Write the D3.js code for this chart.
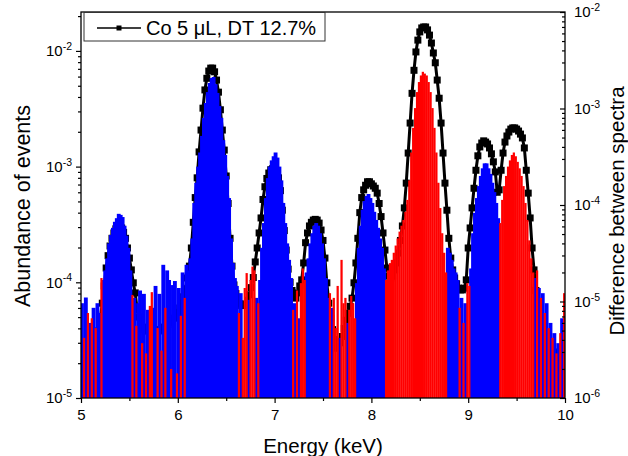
<!DOCTYPE html>
<html><head><meta charset="utf-8">
<script src="https://cdn.jsdelivr.net/npm/d3@7"></script>
<style>
body{margin:0;background:#fff}
svg{display:block}
text{font-family:"Liberation Sans",Arial,sans-serif;fill:#000}
</style>
</head><body>
<svg id="c" width="628" height="456"></svg>
<script>
// channel grid (keV)
const energyStart = 5.0;
const energyStep = 0.02;

// black spectrum "Co 5 uL, DT 12.7%" (left axis), one value per channel 5.00 ... 10.00
const abundance = [
2.2e-5,2.2e-5,2.3e-5,2.3e-5,2.4e-5,2.4e-5,2.6e-5,2.8e-5,3.2e-5,3.8e-5,
4.9e-5,6.6e-5,9.3e-5,1.33e-4,1.7e-4,2.06e-4,2.4e-4,2.67e-4,2.9e-4,3.0e-4,
3.0e-4,2.95e-4,2.7e-4,2.4e-4,1.98e-4,1.62e-4,1.28e-4,9.9e-5,8.1e-5,5.8e-5,
5.0e-5,4.4e-5,4.1e-5,3.9e-5,3.8e-5,3.8e-5,3.7e-5,3.7e-5,3.7e-5,3.8e-5,
3.8e-5,3.9e-5,4.0e-5,4.1e-5,4.2e-5,4.3e-5,4.5e-5,4.7e-5,4.9e-5,5.2e-5,
5.5e-5,6.0e-5,6.6e-5,7.5e-5,8.8e-5,1.09e-4,1.38e-4,1.98e-4,3.3e-4,5.4e-4,
8.0e-4,1.34e-3,2.07e-3,3.2e-3,4.6e-3,5.8e-3,6.7e-3,7.1e-3,7.1e-3,6.6e-3,
5.6e-3,4.4e-3,3.1e-3,2.07e-3,1.39e-3,8.3e-4,4.8e-4,2.4e-4,1.38e-4,9.5e-5,
8.0e-5,7.0e-5,6.5e-5,6.3e-5,6.3e-5,6.5e-5,7.0e-5,7.8e-5,9.0e-5,1.1e-4,
1.5e-4,1.98e-4,2.67e-4,3.6e-4,5.2e-4,6.7e-4,7.9e-4,8.8e-4,9.4e-4,9.6e-4,
9.5e-4,8.9e-4,8.0e-4,6.2e-4,4.2e-4,2.8e-4,1.9e-4,1.3e-4,1.0e-4,8.5e-5,
7.6e-5,7.3e-5,8.1e-5,9.3e-5,1.05e-4,1.47e-4,2.2e-4,2.67e-4,3.07e-4,3.3e-4,
3.45e-4,3.5e-4,3.45e-4,3.25e-4,2.83e-4,2.3e-4,1.62e-4,9.9e-5,6.6e-5,4.9e-5,
3.9e-5,3.2e-5,2.7e-5,2.7e-5,3.0e-5,3.4e-5,4.0e-5,4.7e-5,5.4e-5,6.2e-5,
7.3e-5,9.9e-5,1.47e-4,2.4e-4,4.0e-4,5.4e-4,6.3e-4,6.9e-4,7.4e-4,7.4e-4,
7.1e-4,6.8e-4,6.5e-4,5.9e-4,4.8e-4,3.7e-4,2.67e-4,1.9e-4,1.33e-4,1.13e-4,
1.09e-4,1.13e-4,1.28e-4,1.47e-4,1.79e-4,2.3e-4,3.07e-4,4.4e-4,7.2e-4,1.31e-3,
2.38e-3,4.3e-3,6.8e-3,9.8e-3,1.24e-2,1.46e-2,1.58e-2,1.61e-2,1.61e-2,1.52e-2,
1.37e-2,1.17e-2,9.6e-3,7.9e-3,5.6e-3,3.9e-3,2.38e-3,1.31e-3,7.2e-4,4.2e-4,
2.4e-4,1.62e-4,1.28e-4,1.09e-4,9.7e-5,8.9e-5,8.6e-5,8.6e-5,8.9e-5,1.05e-4,
1.98e-4,2.95e-4,4.4e-4,6.5e-4,9.3e-4,1.24e-3,1.48e-3,1.6e-3,1.67e-3,1.63e-3,
1.57e-3,1.45e-3,1.29e-3,1.1e-3,9.0e-4,6.0e-4,6.3e-4,9.3e-4,1.31e-3,1.63e-3,
1.84e-3,1.99e-3,2.11e-3,2.16e-3,2.16e-3,2.11e-3,2.03e-3,1.91e-3,1.77e-3,1.45e-3,
9.3e-4,5.9e-4,3.6e-4,1.98e-4,1.28e-4,8.5e-5,6.0e-5,4.6e-5,3.8e-5,3.3e-5,
3.0e-5,2.8e-5,2.7e-5,2.6e-5,2.5e-5,2.4e-5,2.4e-5,2.3e-5,2.3e-5,2.2e-5,
2.2e-5
];

// difference between spectra (right axis), one bar per channel 5.00 ... 9.98
// positive = blue, negative = red (drawn as magnitude)
const difference = [
9.6e-6,-4.2e-6,1.1e-5,-7.6e-6,6.0e-6,-6.7e-6,8.6e-6,-5.3e-6,9.6e-6,7.6e-6,
-1.75e-5,1.67e-5,2.1e-5,2.8e-5,4.0e-5,4.9e-5,5.8e-5,6.7e-5,7.3e-5,8.1e-5,
7.9e-5,7.5e-5,6.1e-5,4.8e-5,3.6e-5,2.1e-5,-1.17e-5,1.09e-5,-5.6e-6,9.6e-6,
1.3e-5,-3.7e-6,1.2e-5,-2.9e-6,8.2e-6,-9.0e-6,-1.25e-5,8.6e-6,1.45e-5,-5.3e-6,
1.2e-5,-3.1e-6,2.4e-5,-8.6e-6,2.1e-5,1.67e-5,-2.0e-6,1.48e-5,1.63e-5,-1.8e-6,
1.38e-5,-7.1e-6,2.0e-5,-1.09e-5,2.4e-5,2.1e-5,2.8e-5,4.5e-5,1.05e-4,1.7e-4,
2.5e-4,3.5e-4,5.2e-4,8.0e-4,1.14e-3,1.48e-3,1.84e-3,2.07e-3,2.12e-3,1.79e-3,
1.45e-3,1.06e-3,8.0e-4,4.7e-4,3.3e-4,2.0e-4,1.18e-4,4.5e-5,2.5e-5,1.75e-5,
1.45e-5,-7.6e-6,1.22e-5,-4.2e-6,-1.38e-5,-1.97e-5,1.04e-5,-1.67e-5,-2.3e-5,-2.1e-5,
1.09e-5,-9.6e-6,1.67e-5,3.6e-5,6.5e-5,1.18e-4,1.9e-4,2.5e-4,2.9e-4,3.2e-4,
3.5e-4,3.1e-4,2.5e-4,1.8e-4,1.05e-4,6.5e-5,4.0e-5,2.7e-5,1.75e-5,-8.2e-6,
9.6e-6,-1.3e-5,6.7e-6,-1.55e-5,-2.2e-5,-1.67e-5,2.0e-5,2.8e-5,4.0e-5,5.1e-5,
6.1e-5,6.5e-5,6.1e-5,5.1e-5,4.0e-5,2.8e-5,1.75e-5,1.09e-5,-1.22e-5,8.6e-6,
-1.09e-5,-5.3e-6,-1.45e-5,4.2e-6,-2.7e-5,-9.6e-6,-1.09e-5,6.0e-6,-8.2e-6,-1.14e-5,
-9.6e-6,-6.7e-6,1.55e-5,3.6e-5,6.1e-5,8.9e-5,1.1e-4,1.24e-4,1.3e-4,1.18e-4,
1.05e-4,8.5e-5,7.0e-5,5.8e-5,4.5e-5,3.6e-5,2.2e-5,-1.67e-5,-2.1e-5,-2.5e-5,
-2.7e-5,-3.2e-5,-3.8e-5,-4.5e-5,-5.3e-5,-6.1e-5,-7.0e-5,-8.5e-5,-1.13e-4,-1.8e-4,
-3.5e-4,-6.3e-4,-1.01e-3,-1.48e-3,-1.88e-3,-2.2e-3,-2.4e-3,-2.3e-3,-2.2e-3,-1.88e-3,
-1.48e-3,-1.01e-3,-6.3e-4,-3.5e-4,-1.7e-4,-9.3e-5,-5.1e-5,-3.2e-5,-2.0e-5,3.6e-5,
3.2e-5,2.7e-5,2.2e-5,2.0e-5,1.67e-5,-8.6e-6,1.09e-5,-6.0e-6,9.6e-6,-1.55e-5,
-1.45e-5,2.2e-5,5.1e-5,8.3e-5,1.18e-4,1.57e-4,2.0e-4,2.4e-4,2.7e-4,2.7e-4,
2.4e-4,2.1e-4,1.7e-4,1.36e-4,1.05e-4,7.3e-5,-6.5e-5,-1.13e-4,-1.57e-4,-2.0e-4,
-2.5e-4,-2.9e-4,-3.3e-4,-3.5e-4,-3.2e-4,-2.8e-4,-2.4e-4,-2.0e-4,-1.57e-4,-1.05e-4,
-7.0e-5,-4.3e-5,-2.8e-5,-2.0e-5,1.75e-5,-2.1e-5,1.38e-5,-1.09e-5,1.22e-5,-7.6e-6,
9.6e-6,-5.3e-6,6.0e-6,-4.2e-6,4.7e-6,-2.9e-6,3.7e-6,-4.7e-6,6.7e-6,-1.22e-5
];

const xTicks = [5, 6, 7, 8, 9, 10];
const xMinorTicks = [5.5, 6.5, 7.5, 8.5, 9.5];
const leftTicks = [1e-5, 1e-4, 1e-3, 1e-2];
const rightTicks = [1e-6, 1e-5, 1e-4, 1e-3, 1e-2];
const leftDomain = [1e-5, 0.0217];
const rightDomain = [1e-6, 1e-2];
const legendLabel = "Co 5 \u03BCL, DT 12.7%";
const xTitle = "Energy (keV)";
const yLeftTitle = "Abundance of events";
const yRightTitle = "Difference between spectra";

const M = {left: 81, right: 565, top: 12, bottom: 398};
const svg = d3.select("#c");

const x = d3.scaleLinear().domain([5, 10]).range([M.left, M.right]);
const yL = d3.scaleLog().domain(leftDomain).range([M.bottom, M.top]);
const yR = d3.scaleLog().domain(rightDomain).range([M.bottom, M.top]);

function minors(domain) {
  const out = [];
  for (let e = Math.floor(Math.log10(domain[0])); e <= Math.ceil(Math.log10(domain[1])); e++) {
    for (let m = 2; m <= 9; m++) {
      const v = m * Math.pow(10, e);
      if (v > domain[0] && v < domain[1]) out.push(v);
    }
  }
  return out;
}

svg.append("defs").append("clipPath").attr("id", "plotclip")
  .append("rect").attr("x", M.left).attr("y", M.top)
  .attr("width", M.right - M.left).attr("height", M.bottom - M.top);

const plot = svg.append("g").attr("clip-path", "url(#plotclip)");

// black spectrum (behind the bars)
const pts = abundance.map((v, i) => ({e: energyStart + i * energyStep, v}));
plot.append("path")
  .datum(pts)
  .attr("fill", "none").attr("stroke", "#000").attr("stroke-width", 3)
  .attr("d", d3.line().x(d => x(d.e)).y(d => yL(d.v)));
plot.append("g").selectAll("rect").data(pts).join("rect")
  .attr("x", d => x(d.e) - 3.5).attr("y", d => yL(d.v) - 3.5)
  .attr("width", 7).attr("height", 7).attr("fill", "#000");

// difference bars: blue (positive) behind, red (negative) in front
const bars = difference.map((v, i) => ({e: energyStart + i * energyStep, v}));
const pos = bars.filter(d => d.v > 0), neg = bars.filter(d => d.v < 0);
plot.append("g").selectAll("rect").data(pos).join("rect")
  .attr("x", d => x(d.e - energyStep / 2))
  .attr("width", d => x(d.e + 1.5 * energyStep) - x(d.e - energyStep / 2))
  .attr("y", d => yR(d.v))
  .attr("height", d => M.bottom - yR(d.v))
  .attr("fill", "#0000ff");
plot.append("g").selectAll("rect").data(neg).join("rect")
  .attr("x", d => x(d.e))
  .attr("width", d => x(d.e + energyStep) - x(d.e) + 0.3)
  .attr("y", d => yR(-d.v))
  .attr("height", d => M.bottom - yR(-d.v))
  .attr("fill", "#ff0000");

// frame
svg.append("rect").attr("x", M.left).attr("y", M.top)
  .attr("width", M.right - M.left).attr("height", M.bottom - M.top)
  .attr("fill", "none").attr("stroke", "#000").attr("stroke-width", 1.3);

function powLabel(sel, size) {
  sel.selectAll(".tick text").each(function (d) {
    const t = d3.select(this);
    t.text(null);
    t.append("tspan").text("10");
    t.append("tspan").attr("dy", "-0.6em").attr("font-size", "10.5px")
      .text(String(Math.round(Math.log10(d))).replace("\u2212", "-"));
  });
  sel.selectAll("text").attr("font-size", size + "px").attr("font-family", '"Liberation Sans", Arial, sans-serif');
}
function styleAxis(g) {
  g.select(".domain").remove();
  g.selectAll("line").attr("stroke", "#000").attr("stroke-width", 1.2);
}

// bottom axis
const gx = svg.append("g").attr("transform", `translate(0,${M.bottom})`)
  .call(d3.axisBottom(x).tickValues(xTicks).tickSize(5).tickSizeOuter(0).tickPadding(6).tickFormat(d3.format("d")));
styleAxis(gx);
gx.selectAll("text").attr("font-size", "15px").attr("font-family", '"Liberation Sans", Arial, sans-serif');
const gxm = svg.append("g").attr("transform", `translate(0,${M.bottom})`)
  .call(d3.axisBottom(x).tickValues(xMinorTicks).tickSize(3).tickSizeOuter(0).tickFormat(""));
styleAxis(gxm);

// left axis
const gl = svg.append("g").attr("transform", `translate(${M.left},0)`)
  .call(d3.axisLeft(yL).tickValues(leftTicks).tickSize(5).tickSizeOuter(0).tickPadding(4));
styleAxis(gl); powLabel(gl, 15);
const glm = svg.append("g").attr("transform", `translate(${M.left},0)`)
  .call(d3.axisLeft(yL).tickValues(minors(leftDomain)).tickSize(3).tickSizeOuter(0).tickFormat(""));
styleAxis(glm);

// right axis (ticks inward)
const gr = svg.append("g").attr("transform", `translate(${M.right},0)`)
  .call(d3.axisRight(yR).tickValues(rightTicks).tickSize(-5).tickSizeOuter(0).tickPadding(9));
styleAxis(gr); powLabel(gr, 15);
const grm = svg.append("g").attr("transform", `translate(${M.right},0)`)
  .call(d3.axisRight(yR).tickValues(minors(rightDomain)).tickSize(-3).tickSizeOuter(0).tickFormat(""));
styleAxis(grm);

// axis titles
svg.append("text").attr("x", (M.left + M.right) / 2).attr("y", 453)
  .attr("text-anchor", "middle").attr("font-size", "20.5px").text(xTitle);
svg.append("text").attr("transform", "translate(30,206) rotate(-90)")
  .attr("text-anchor", "middle").attr("font-size", "21.5px").text(yLeftTitle);
svg.append("text").attr("transform", "translate(624,211) rotate(-90)")
  .attr("text-anchor", "middle").attr("font-size", "20.5px").text(yRightTitle);

// legend
const lg = svg.append("g");
lg.append("rect").attr("x", 84).attr("y", 12.5).attr("width", 241).attr("height", 28.5)
  .attr("fill", "#fff").attr("stroke", "#333").attr("stroke-width", 1);
lg.append("line").attr("x1", 97).attr("x2", 141).attr("y1", 28).attr("y2", 28)
  .attr("stroke", "#000").attr("stroke-width", 1.3);
lg.append("rect").attr("x", 116.5).attr("y", 25.5).attr("width", 5).attr("height", 5).attr("fill", "#000");
lg.append("text").attr("x", 146).attr("y", 35).attr("font-size", "20px").text(legendLabel);
</script>
</body></html>
